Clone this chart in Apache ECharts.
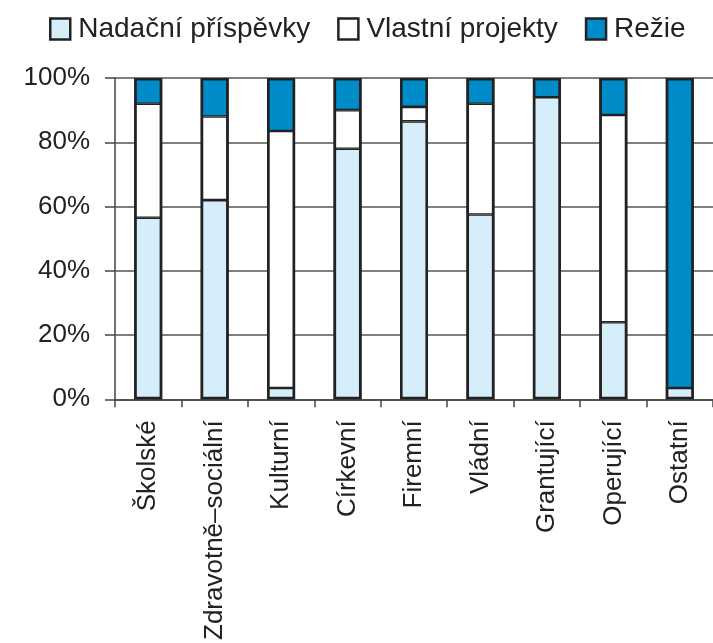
<!DOCTYPE html>
<html>
<head>
<meta charset="utf-8">
<script src="https://cdn.jsdelivr.net/npm/echarts@6/dist/echarts.min.js"></script>
<style>html,body{margin:0;padding:0;background:#fff;}#c{width:713px;height:643px;}</style>
</head>
<body>
<div id="c"></div>
<script>
const categories = ['Školské', 'Zdravotně–sociální', 'Kulturní', 'Církevní', 'Firemní', 'Vládní', 'Grantující', 'Operující', 'Ostatní'];
const seriesNames = ['Nadační příspěvky', 'Vlastní projekty', 'Režie'];
const nadacni = [56.5, 62, 3.5, 78, 86.5, 57.5, 94, 24, 3.5];
const vlastni = [35.5, 26, 80, 12, 4.5, 34.5, 0, 64.5, 0];
const rezie = [8, 12, 16.5, 10, 9, 8, 6, 11.5, 96.5];
const yTicks = [0, 20, 40, 60, 80, 100];

const colors = ['#d6edfa', '#ffffff', '#008bc9'];
const dataSets = [nadacni, vlastni, rezie];
const totals = categories.map((_, i) => nadacni[i] + vlastni[i] + rezie[i]);
const font = 'Liberation Sans, Arial, sans-serif';

const segSeries = seriesNames.map((n, i) => ({
  name: n,
  type: 'bar',
  stack: 'total',
  barWidth: 28,
  data: dataSets[i],
  itemStyle: { color: colors[i], borderColor: '#222', borderWidth: 1.3 }
}));
const outline = {
  name: 'outline',
  type: 'bar',
  barWidth: 28,
  barGap: '-100%',
  z: 5,
  silent: true,
  data: totals,
  itemStyle: { color: 'rgba(0,0,0,0)', borderColor: '#222', borderWidth: 2.6 }
};

const chart = echarts.init(document.getElementById('c'));
chart.setOption({
  animation: false,
  backgroundColor: '#fff',
  legend: {
    left: 44, top: 10,
    icon: 'rect',
    itemWidth: 20, itemHeight: 21, itemGap: 27,
    itemStyle: { borderColor: '#222', borderWidth: 2.5 },
    textStyle: { fontSize: 28, fontFamily: font, color: '#222', padding: [0, 0, 0, 3] },
    data: seriesNames
  },
  grid: { left: 115, width: 603, top: 78, bottom: 243, containLabel: false },
  xAxis: {
    type: 'category',
    data: categories,
    boundaryGap: true,
    axisLine: { show: true, lineStyle: { color: '#444', width: 1.5 } },
    axisTick: { show: true, alignWithLabel: false, length: 8, lineStyle: { color: '#444', width: 1.5 } },
    axisLabel: { rotate: 90, margin: 21, fontSize: 26, fontFamily: font, color: '#222', interval: 0 }
  },
  yAxis: {
    type: 'value',
    min: 0, max: 100, interval: 20,
    axisLine: { show: true, lineStyle: { color: '#444', width: 1.5 } },
    axisTick: { show: true, inside: false, length: 10, lineStyle: { color: '#444', width: 1.5 } },
    splitLine: { show: true, lineStyle: { color: '#555', width: 1.5 } },
    axisLabel: { margin: 25, fontSize: 26, fontFamily: font, color: '#222',
      formatter: v => (yTicks.indexOf(v) >= 0 ? v + '%' : '') }
  },
  series: segSeries.concat([outline])
});
</script>
</body>
</html>
